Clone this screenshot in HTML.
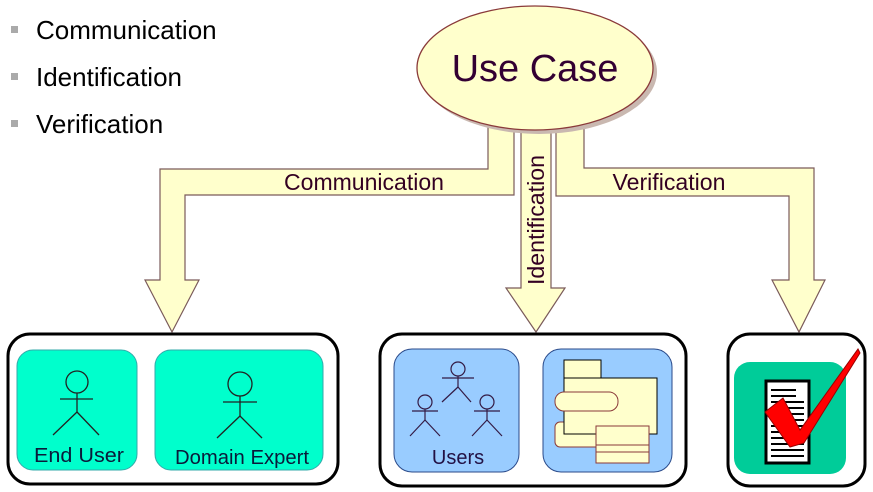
<!DOCTYPE html>
<html><head><meta charset="utf-8"><style>
html,body{margin:0;padding:0;background:#fff;}
svg{display:block;font-family:"Liberation Sans",Arial,sans-serif;}
</style></head><body>
<svg width="873" height="492" viewBox="0 0 873 492" xmlns="http://www.w3.org/2000/svg">
<!-- bullets -->
<rect x="11" y="26" width="7" height="7" fill="#aaa"/>
<rect x="11" y="73" width="7" height="7" fill="#aaa"/>
<rect x="11" y="120" width="7" height="7" fill="#aaa"/>
<text x="36" y="39" font-size="26" fill="#000">Communication</text>
<text x="36" y="86" font-size="26" fill="#000">Identification</text>
<text x="36" y="133" font-size="26" fill="#000">Verification</text>

<!-- arrows -->
<g fill="#ffffcc" stroke="#7a5a5a" stroke-width="1.2">
<polygon points="488,110 514,110 514,195 185,195 185,280 199,280 172,332 145,280 160,280 160,169 488,169"/>
<polygon points="521,110 551,110 551,288 565,288 536,332 506,288 521,288"/>
<polygon points="556,110 584,110 584,168 814,168 814,280 825,280 799,332 772,280 789,280 789,196 556,196"/>
</g>
<text x="364" y="190" font-size="23" fill="#330022" text-anchor="middle" textLength="160" lengthAdjust="spacingAndGlyphs">Communication</text>
<text x="669" y="190" font-size="23" fill="#330022" text-anchor="middle" textLength="113" lengthAdjust="spacingAndGlyphs">Verification</text>
<text transform="translate(544,220) rotate(-90)" x="0" y="0" font-size="23" fill="#330022" text-anchor="middle" textLength="130" lengthAdjust="spacingAndGlyphs">Identification</text>

<!-- ellipse -->
<ellipse cx="539" cy="72" rx="118" ry="62" fill="#c9b8b0"/>
<ellipse cx="535" cy="68" rx="118" ry="62" fill="#ffffcc" stroke="#8a3a3a" stroke-width="1.3"/>
<text x="535" y="81" font-size="38" fill="#330033" text-anchor="middle">Use Case</text>

<!-- box 1 -->
<rect x="8" y="334" width="330" height="150" rx="22" fill="#fff" stroke="#000" stroke-width="3"/>
<rect x="17" y="350" width="120" height="120" rx="16" fill="#00ffcc" stroke="#3aa" stroke-width="1"/>
<rect x="155" y="350" width="168" height="120" rx="16" fill="#00ffcc" stroke="#3aa" stroke-width="1"/>
<g stroke="#222" stroke-width="1.3" fill="none">
<circle cx="77" cy="382" r="11"/><line x1="77" y1="393" x2="77" y2="412"/><line x1="60" y1="399" x2="93" y2="399"/><line x1="77" y1="412" x2="53" y2="435"/><line x1="77" y1="412" x2="99" y2="435"/>
<circle cx="240" cy="384" r="12"/><line x1="240" y1="396" x2="240" y2="416"/><line x1="223" y1="402" x2="257" y2="402"/><line x1="240" y1="416" x2="217" y2="438"/><line x1="240" y1="416" x2="262" y2="438"/>
</g>
<text x="79" y="462" font-size="20" fill="#0a1a3a" text-anchor="middle" textLength="90" lengthAdjust="spacingAndGlyphs">End  User</text>
<text x="242" y="464" font-size="20" fill="#0a1a3a" text-anchor="middle" textLength="134" lengthAdjust="spacingAndGlyphs">Domain Expert</text>

<!-- box 2 -->
<rect x="380" y="334" width="306" height="152" rx="22" fill="#fff" stroke="#000" stroke-width="3"/>
<rect x="394" y="349" width="125" height="123" rx="18" fill="#99ccff" stroke="#2a4a8a" stroke-width="1"/>
<rect x="543" y="349" width="129" height="123" rx="18" fill="#99ccff" stroke="#2a4a8a" stroke-width="1"/>
<g stroke="#331a44" stroke-width="1.2" fill="none">
<circle cx="458" cy="369" r="7"/><line x1="458" y1="376" x2="458" y2="387"/><line x1="442" y1="378" x2="474" y2="378"/><line x1="458" y1="387" x2="442" y2="402"/><line x1="458" y1="387" x2="471" y2="402"/>
<circle cx="425" cy="402" r="7"/><line x1="425" y1="409" x2="425" y2="420"/><line x1="412" y1="411" x2="438" y2="411"/><line x1="425" y1="420" x2="410" y2="436"/><line x1="425" y1="420" x2="440" y2="436"/>
<circle cx="487" cy="402" r="7"/><line x1="487" y1="409" x2="487" y2="420"/><line x1="474" y1="411" x2="500" y2="411"/><line x1="487" y1="420" x2="472" y2="436"/><line x1="487" y1="420" x2="502" y2="436"/>
</g>
<text x="458" y="464" font-size="20" fill="#221144" text-anchor="middle">Users</text>
<g stroke-width="1">
<rect x="555" y="422" width="50" height="25" rx="5" fill="#ffffcc" stroke="#8a3a3a"/>
<rect x="564" y="360" width="37" height="18" fill="#ffffcc" stroke="#000"/>
<rect x="564" y="378" width="93" height="56" fill="#ffffcc" stroke="#000"/>
<rect x="555" y="392" width="63" height="19" rx="9" fill="#ffffcc" stroke="#8a3a3a"/>
<rect x="596" y="426" width="53" height="37" fill="#ffffcc" stroke="#8a3a3a"/>
<line x1="596" y1="445" x2="649" y2="445" stroke="#8a3a3a"/>
<line x1="596" y1="452" x2="649" y2="452" stroke="#8a3a3a"/>
</g>

<!-- box 3 -->
<rect x="728" y="334" width="137" height="152" rx="22" fill="#fff" stroke="#000" stroke-width="3"/>
<rect x="734" y="362" width="112" height="112" rx="16" fill="#00cc99"/>
<rect x="766" y="381" width="43" height="82" fill="#fff" stroke="#000" stroke-width="3"/>
<g stroke="#000" stroke-width="2">
<line x1="771" y1="390" x2="796" y2="390"/><line x1="771" y1="396" x2="796" y2="396"/><line x1="771" y1="402" x2="804" y2="402"/><line x1="771" y1="408" x2="804" y2="408"/><line x1="771" y1="414" x2="804" y2="414"/><line x1="771" y1="420" x2="804" y2="420"/><line x1="771" y1="426" x2="804" y2="426"/><line x1="771" y1="432" x2="804" y2="432"/><line x1="771" y1="438" x2="804" y2="438"/><line x1="771" y1="444" x2="804" y2="444"/><line x1="771" y1="450" x2="804" y2="450"/><line x1="771" y1="456" x2="804" y2="456"/>
</g>
<polygon points="765,412 783,398 800,430 858,349 860,353 804,443 790,447" fill="#ff0000" stroke="#990000" stroke-width="1"/>
</svg>
</body></html>
